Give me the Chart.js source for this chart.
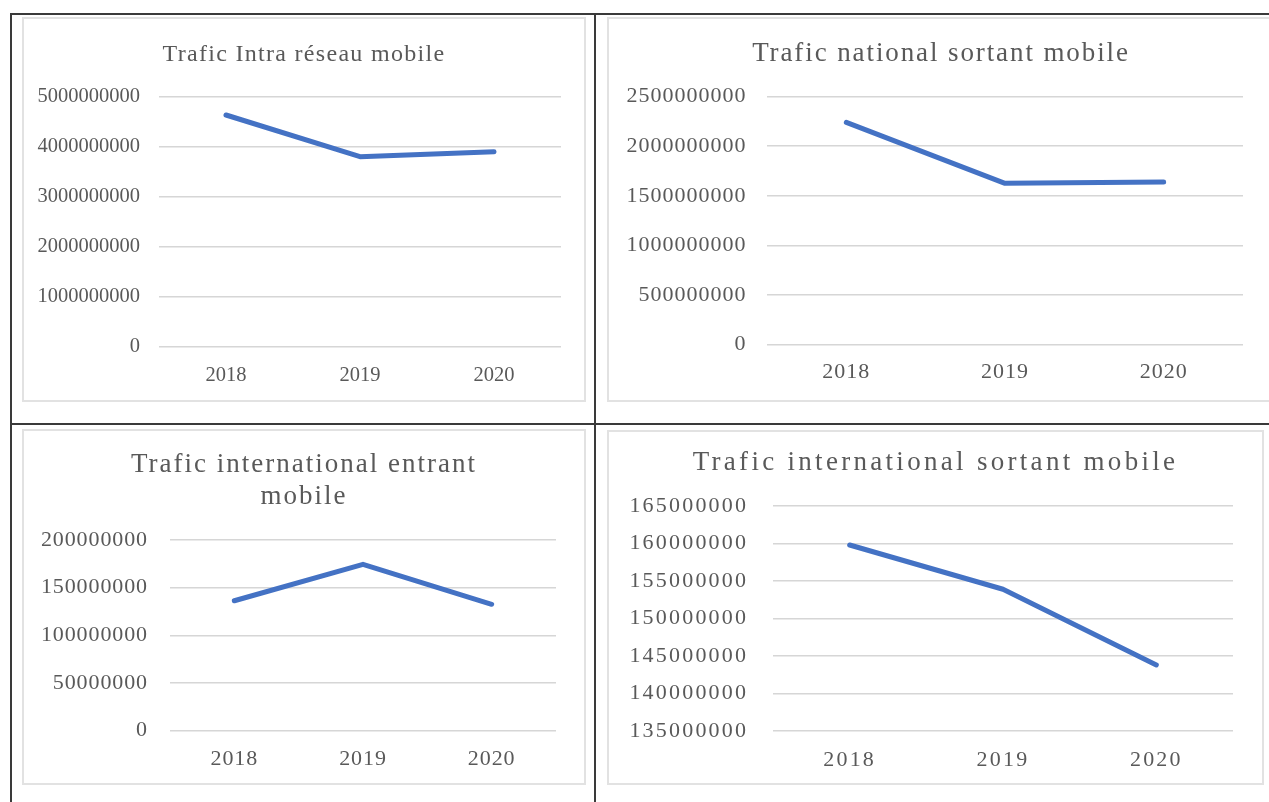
<!DOCTYPE html>
<html>
<head>
<meta charset="utf-8">
<script src="https://cdn.jsdelivr.net/npm/chart.js@4/dist/chart.umd.min.js"></script>
<style>
html, body { margin: 0; padding: 0; background: #ffffff; }
body { width: 1269px; height: 802px; overflow: hidden; position: relative; }
.rule { position: absolute; background: #3a3a3a; }
.box { position: absolute; border: 2px solid #e2e2e2; box-sizing: border-box; }
canvas { position: absolute; }
</style>
</head>
<body>
<div class="rule" style="left:10px; top:13px; width:1259px; height:2px;"></div>
<div class="rule" style="left:10px; top:13px; width:2px; height:789px;"></div>
<div class="rule" style="left:594px; top:13px; width:2px; height:789px;"></div>
<div class="rule" style="left:10px; top:423px; width:1259px; height:2px;"></div>

<div class="box" style="left:22px; top:17px; width:564px; height:385px;"></div>
<div class="box" style="left:607px; top:17px; width:668px; height:385px;"></div>
<div class="box" style="left:22px; top:429px; width:564px; height:356px;"></div>
<div class="box" style="left:607px; top:430px; width:657px; height:355px;"></div>

<canvas id="c1" width="564" height="385" style="left:22px; top:17px;"></canvas>
<canvas id="c2" width="668" height="385" style="left:607px; top:17px;"></canvas>
<canvas id="c3" width="564" height="356" style="left:22px; top:429px;"></canvas>
<canvas id="c4" width="657" height="355" style="left:607px; top:430px;"></canvas>

<script>
// ---- Data ----
const years = ['2018', '2019', '2020'];

const intraReseauMobile = [4634000000, 3800000000, 3900000000];
const nationalSortantMobile = [2240000000, 1625000000, 1639000000];
const internationalEntrantMobile = [136300000, 174500000, 132600000];
const internationalSortantMobile = [159800000, 153900000, 143800000];

const ticksIntra = [0, 1000000000, 2000000000, 3000000000, 4000000000, 5000000000];
const ticksNational = [0, 500000000, 1000000000, 1500000000, 2000000000, 2500000000];
const ticksEntrant = [0, 50000000, 100000000, 150000000, 200000000];
const ticksSortant = [135000000, 140000000, 145000000, 150000000, 155000000, 160000000, 165000000];

const titleIntra = 'Trafic Intra réseau mobile';
const titleNational = 'Trafic national sortant mobile';
const titleEntrant = ['Trafic international entrant', 'mobile'];
const titleSortant = 'Trafic international sortant mobile';

// ---- Styles ----
const SERIF = '"Liberation Serif", "Times New Roman", serif';
const TEXT = '#595959';
const LINE = '#4472C4';
const GRID = '#d6d6d6';

function makeChart(id, title, values, ticks, L) {
  const ctxEl = document.getElementById(id);
  return new Chart(ctxEl, {
    type: 'line',
    data: {
      labels: years,
      datasets: [{
        label: Array.isArray(title) ? title.join(' ') : title,
        data: values,
        borderColor: LINE,
        backgroundColor: LINE,
        borderWidth: 5,
        pointRadius: 0,
        pointHoverRadius: 0,
        tension: 0,
        fill: false,
        borderCapStyle: 'round',
        borderJoinStyle: 'round',
        yAxisID: 'y'
      }]
    },
    options: {
      responsive: false,
      animation: false,
      events: [],
      layout: { padding: 0 },
      plugins: {
        legend: { display: false },
        tooltip: { enabled: false },
        title: {
          display: true,
          text: title,
          color: TEXT,
          font: { family: SERIF, size: L.titleSize, weight: 'normal', lineHeight: 1.2 },
          padding: { top: L.titleTop, bottom: L.titleBottom }
        }
      },
      scales: {
        x: {
          offset: true,
          grid: { display: false, drawTicks: false },
          border: { display: false },
          ticks: {
            color: TEXT,
            font: { family: SERIF, size: L.tickSize, lineHeight: 1.2 },
            padding: L.xPad,
            maxRotation: 0,
            autoSkip: false
          },
          afterFit: s => { s.height = L.xHeight; }
        },
        y: {
          position: 'left',
          min: ticks[0],
          max: ticks[ticks.length - 1],
          grid: { color: GRID, lineWidth: 1.5, drawTicks: false },
          border: { display: false },
          ticks: {
            color: TEXT,
            font: { family: SERIF, size: L.tickSize, lineHeight: 1.2 },
            padding: L.yPad,
            callback: v => String(v)
          },
          afterBuildTicks: s => { s.ticks = ticks.map(v => ({ value: v })); },
          afterFit: s => { s.width = L.yWidth; }
        },
        spacer: {
          type: 'linear',
          position: 'right',
          display: true,
          grid: { display: false, drawTicks: false },
          border: { display: false },
          ticks: { display: false },
          afterFit: s => { s.width = L.side; }
        }
      }
    },
    plugins: [{
      id: 'textSpacing',
      afterInit(chart) {
        const tb = chart.titleBlock;
        if (!tb) return;
        const orig = tb.draw.bind(tb);
        tb.draw = function () {
          const c = chart.ctx;
          c.save();
          try { c.letterSpacing = L.spacing + 'px'; } catch (e) {}
          orig();
          c.restore();
        };
      },
      beforeDraw(chart) {
        try { chart.ctx.letterSpacing = L.tickSpacing + 'px'; } catch (e) {}
      },
      afterDraw(chart) {
        try { chart.ctx.letterSpacing = '0px'; } catch (e) {}
      }
    }]
  });
}

makeChart('c1', titleIntra, intraReseauMobile, ticksIntra,
  { side: 25, yWidth: 137, yPad: 19, titleSize: 24, titleTop: 23.6, titleBottom: 27.3,
    tickSize: 20.5, tickSpacing: 0, xPad: 16.5, xHeight: 55.3, spacing: 1.3 });
makeChart('c2', titleNational, nationalSortantMobile, ticksNational,
  { side: 32, yWidth: 160, yPad: 20.5, titleSize: 27, titleTop: 20.8, titleBottom: 26.5,
    tickSize: 22, tickSpacing: 1.0, xPad: 15, xHeight: 57.7, spacing: 1.9 });
makeChart('c3', titleEntrant, internationalEntrantMobile, ticksEntrant,
  { side: 30, yWidth: 148, yPad: 22, titleSize: 27, titleTop: 19.8, titleBottom: 26.4,
    tickSize: 22, tickSpacing: 0.9, xPad: 15.4, xHeight: 54.3, spacing: 2.0 });
makeChart('c4', titleSortant, internationalSortantMobile, ticksSortant,
  { side: 31, yWidth: 166, yPad: 24.8, titleSize: 27, titleTop: 16.8, titleBottom: 26.8,
    tickSize: 22, tickSpacing: 2.2, xPad: 16.5, xHeight: 54, spacing: 3.3 });
</script>
</body>
</html>
